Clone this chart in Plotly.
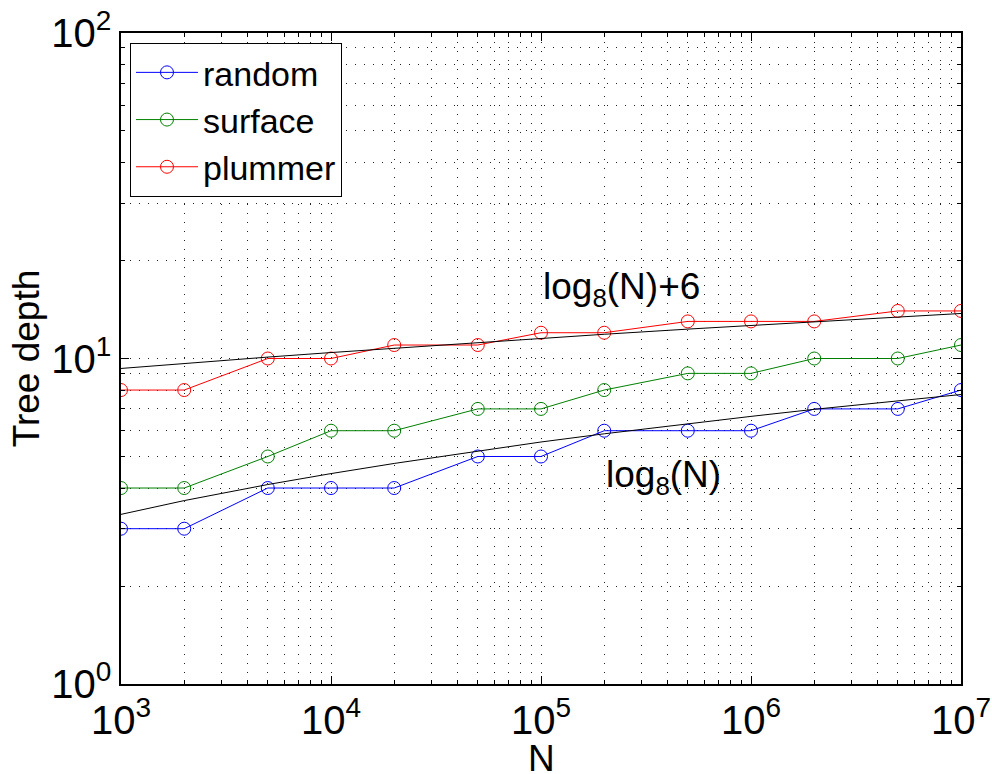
import plotly.graph_objects as go

N = [1e3, 2e3, 5e3, 1e4, 2e4, 5e4, 1e5, 2e5, 5e5, 1e6, 2e6, 5e6, 1e7]
random_depth = [3, 3, 4, 4, 4, 5, 5, 6, 6, 6, 7, 7, 8]
surface_depth = [4, 4, 5, 6, 6, 7, 7, 8, 9, 9, 10, 10, 11]
plummer_depth = [8, 8, 10, 10, 11, 11, 12, 12, 13, 13, 13, 14, 14]
log8_N = [3.32, 3.66, 4.10, 4.43, 4.76, 5.20, 5.54, 5.87, 6.31, 6.64, 6.98, 7.42, 7.75]
log8_N_plus6 = [9.32, 9.66, 10.10, 10.43, 10.76, 11.20, 11.54, 11.87, 12.31, 12.64, 12.98, 13.42, 13.75]

x_tickvals = [1e3, 1e4, 1e5, 1e6, 1e7]
x_ticktext = ["10<sup>3</sup>", "10<sup>4</sup>", "10<sup>5</sup>", "10<sup>6</sup>", "10<sup>7</sup>"]
y_tickvals = [1, 10, 100]
y_ticktext = ["10<sup>0</sup>", "10<sup>1</sup>", "10<sup>2</sup>"]

FONT = "Liberation Sans, Arial, Helvetica, sans-serif"
TXT = 37

fig = go.Figure()
for name, vals, color in [("random", random_depth, "#0000ff"),
                          ("surface", surface_depth, "#008000"),
                          ("plummer", plummer_depth, "#ff0000")]:
    fig.add_trace(go.Scatter(
        x=N, y=vals, name=name, mode="lines+markers",
        line=dict(color=color, width=1),
        marker=dict(symbol="circle-open", size=13, color=color, line=dict(width=1)),
    ))
for vals in [log8_N, log8_N_plus6]:
    fig.add_trace(go.Scatter(
        x=N, y=vals, mode="lines", showlegend=False,
        line=dict(color="black", width=1), hoverinfo="skip",
    ))

fig.add_annotation(x=5.0, y=1.212, xref="x", yref="y", text="log<sub>8</sub>(N)+6",
                   xanchor="left", yanchor="middle",
                   showarrow=False, font=dict(size=TXT, family=FONT, color="black"))
fig.add_annotation(x=5.30, y=0.637, xref="x", yref="y", text="log<sub>8</sub>(N)",
                   xanchor="left", yanchor="middle",
                   showarrow=False, font=dict(size=TXT, family=FONT, color="black"))
# x-axis title
fig.add_annotation(x=0.5, y=-0.115, xref="paper", yref="paper", text="N",
                   xanchor="center", yanchor="middle",
                   showarrow=False, font=dict(size=TXT, family=FONT, color="black"))

axis_common = dict(
    type="log", automargin=False,
    showline=True, linecolor="black", linewidth=1.5, mirror="allticks",
    ticks="inside", ticklen=8, tickcolor="black", tickwidth=1,
    showgrid=True, gridcolor="#222", gridwidth=1, griddash="1px,8px",
    zeroline=False,
    tickfont=dict(size=40, family=FONT, color="black"),
    minor=dict(ticks="inside", ticklen=4, tickcolor="black", dtick="D1",
               showgrid=True, gridcolor="#222", gridwidth=1, griddash="1px,8px"),
)

fig.update_xaxes(**axis_common, range=[3, 7], tickvals=x_tickvals, ticktext=x_ticktext)
fig.update_yaxes(**axis_common, range=[0, 2], tickvals=y_tickvals, ticktext=y_ticktext,
                 title=dict(text="Tree depth", font=dict(size=TXT, family=FONT, color="black"), standoff=0))

fig.update_layout(
    width=992, height=774,
    paper_bgcolor="white", plot_bgcolor="white",
    margin=dict(l=121, r=31, t=33, b=90, autoexpand=False),
    font=dict(family=FONT, color="black"),
    legend=dict(x=0.0107, y=0.985, xanchor="left", yanchor="top",
                bgcolor="white", bordercolor="black", borderwidth=1,
                font=dict(size=34, family=FONT, color="black"),
                itemwidth=62, tracegroupgap=0),
)

fig.write_html("out.html", config={"displayModeBar": False},
               post_script="document.body.style.margin='0';document.body.style.overflow='hidden';")
